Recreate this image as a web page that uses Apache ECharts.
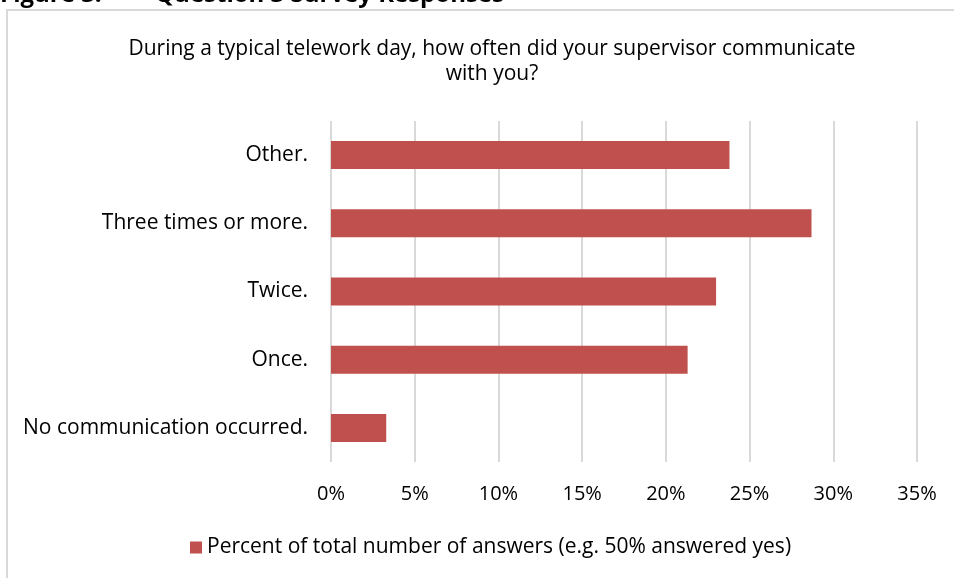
<!DOCTYPE html>
<html>
<head>
<meta charset="utf-8">
<script src="https://cdn.jsdelivr.net/npm/echarts@6/dist/echarts.min.js"></script>
<style>
html,body{margin:0;padding:0;background:#fff;}
#chart{width:954px;height:578px;}
</style>
</head>
<body>
<div id="chart"></div>
<script>
const categories = ['No communication occurred.', 'Once.', 'Twice.', 'Three times or more.', 'Other.'];
const values = [3.3, 21.3, 23.0, 28.7, 23.8];
const seriesName = 'Percent of total number of answers (e.g. 50% answered yes)';
const titleText = 'During a typical telework day, how often did your supervisor communicate\nwith you?';
const figureLabel = 'Figure 3:';
const figureText = 'Question 3 Survey Responses';
const xTicks = [0, 5, 10, 15, 20, 25, 30, 35];

const FONT = 'Open Sans';
const FS = 21;
const chart = echarts.init(document.getElementById('chart'), null, {renderer: 'canvas'});
chart.setOption({
  animation: false,
  backgroundColor: '#ffffff',
  textStyle: {fontFamily: FONT},
  title: {
    text: titleText,
    left: 487, top: 32,
    textAlign: 'center',
    textStyle: {fontFamily: FONT, fontSize: FS, fontWeight: 'normal', color: '#000', lineHeight: 25}
  },
  graphic: [
    {type: 'rect', shape: {x: 7, y: 10, width: 960, height: 580}, style: {fill: 'none', stroke: '#d9d9d9', lineWidth: 2}, silent: true},
    {type: 'text', x: 0, y: -4.5, style: {text: figureLabel, fontFamily: FONT, fontSize: 24, fontWeight: 'bold', fill: '#000', verticalAlign: 'middle', align: 'left'}},
    {type: 'text', x: 155, y: -4.5, style: {text: figureText, fontFamily: FONT, fontSize: 24, fontWeight: 'bold', fill: '#000', verticalAlign: 'middle', align: 'left'}}
  ],
  legend: {
    bottom: 15, left: 185,
    itemWidth: 12, itemHeight: 12, itemGap: 6,
    icon: 'rect',
    textStyle: {fontFamily: FONT, fontSize: FS, color: '#000'},
    data: [seriesName]
  },
  grid: {left: 331, right: 37, top: 121, height: 341, containLabel: false},
  xAxis: {
    type: 'value', min: 0, max: 35, interval: 5,
    axisLine: {show: false}, axisTick: {show: false},
    splitLine: {show: true, lineStyle: {color: '#d9d9d9', width: 2}},
    axisLabel: {formatter: v => v + '%', fontFamily: FONT, fontSize: 20, color: '#000', margin: 22}
  },
  yAxis: {
    type: 'category', data: categories,
    axisLine: {show: false}, axisTick: {show: false},
    axisLabel: {fontFamily: FONT, fontSize: FS, color: '#000', margin: 23}
  },
  series: [{
    name: seriesName, type: 'bar', data: values,
    barWidth: 28,
    itemStyle: {color: '#c0504d'}
  }]
});
</script>
</body>
</html>
